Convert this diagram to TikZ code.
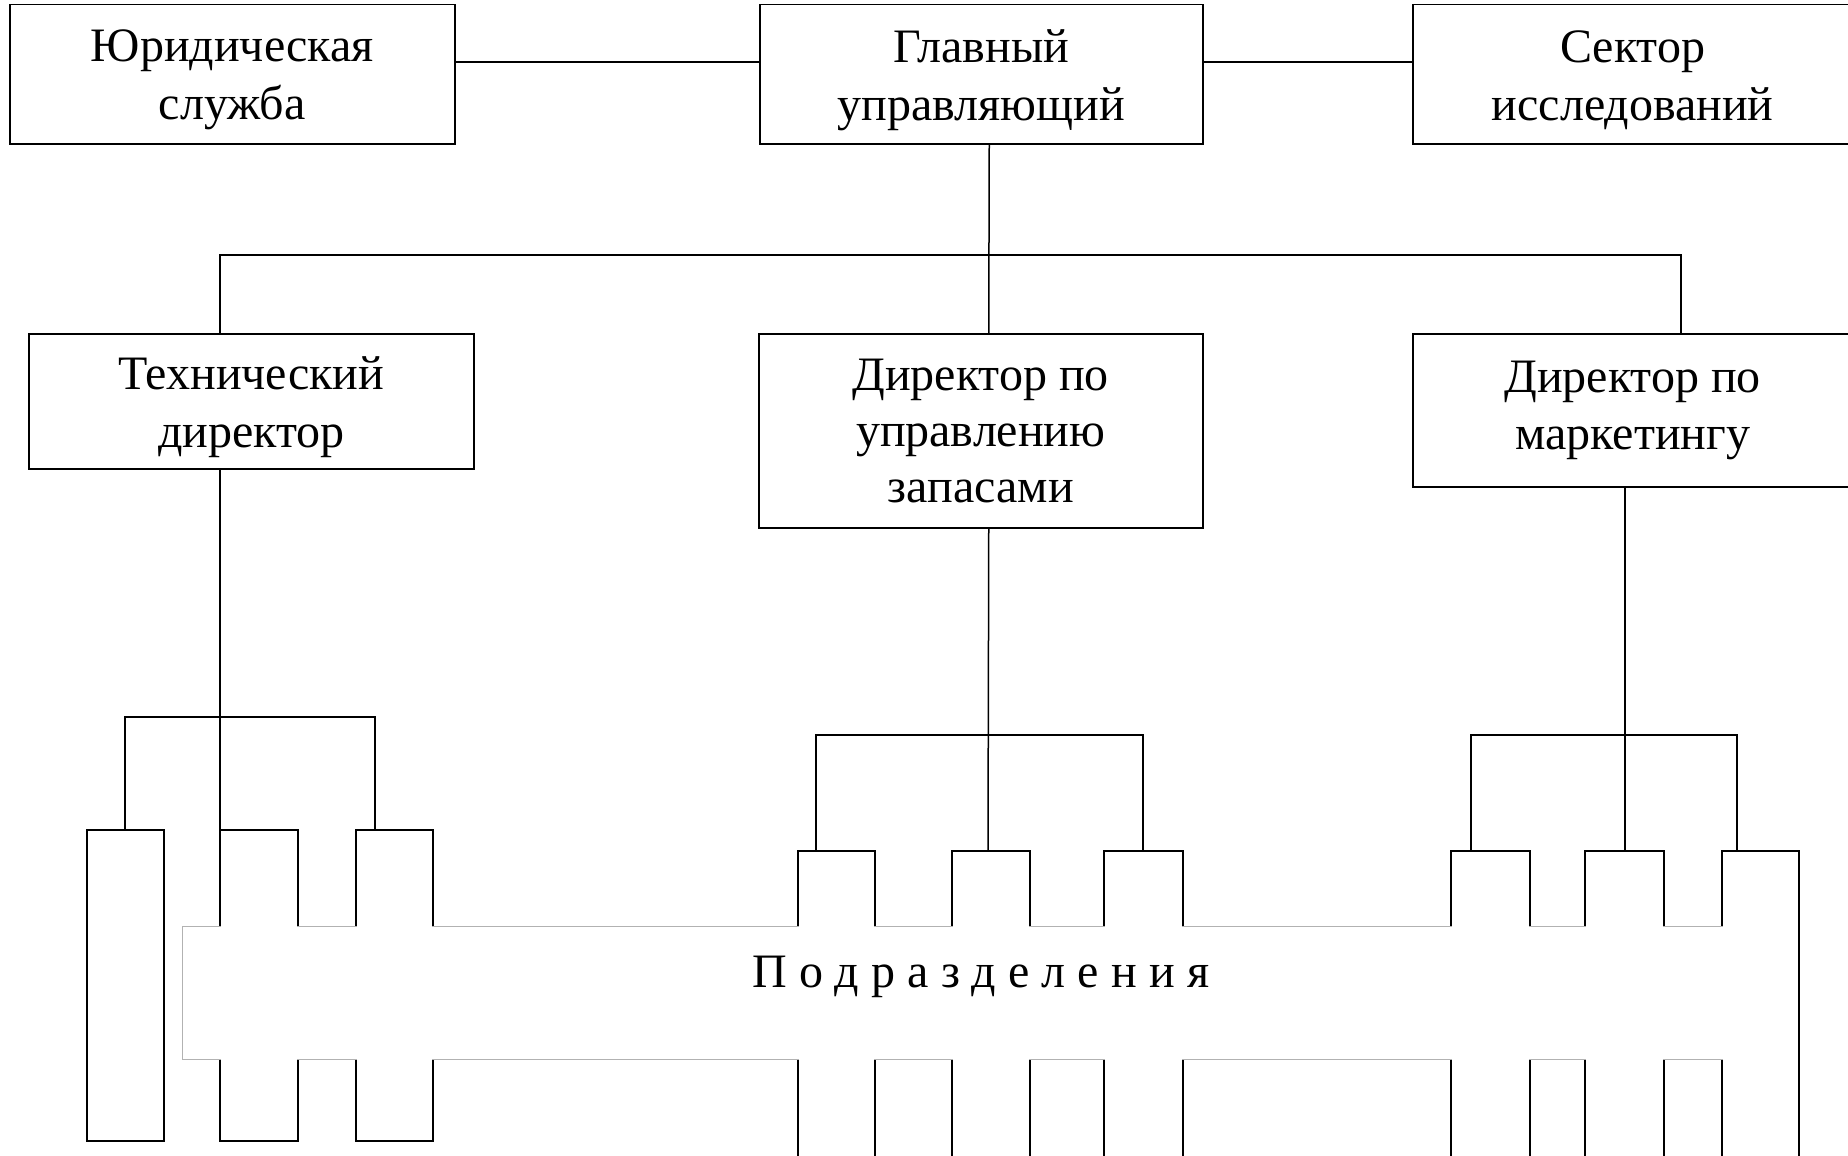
\documentclass[tikz,border=0pt]{standalone}
\usepackage{fontspec}
\setmainfont{Liberation Serif}
\begin{document}
\begin{tikzpicture}[x=1pt,y=-1pt,
  box/.style={draw=black, line width=1.5pt, inner sep=0pt, anchor=north west},
  txt/.style={inner sep=0pt, align=center, font=\fontsize{48}{58}\selectfont},
  ln/.style={draw=black, line width=1.5pt},
  band/.style={draw=black!30, line width=1pt, fill=white, inner sep=0pt, anchor=north west},
  gap/.style={fill=white}]
\useasboundingbox (0,0) rectangle (1848,1156);
% top row
\node[box, minimum width=445pt, minimum height=139pt] (jur) at (9,4) {};
\node[box, minimum width=443pt, minimum height=139pt] (gm) at (759,4) {};
\node[box, minimum width=440pt, minimum height=139pt] (sec) at (1412,4) {};
\node[txt] (jurt) at ([yshift=-6pt]jur.center) {Юридическая\\служба};
\node[txt] (gmt) at ([yshift=-6pt]gm.center) {Главный\\управляющий};
\node[txt] (sect) at ([yshift=-6pt]sec.center) {Сектор\\исследований};
% directors
\node[box, minimum width=445pt, minimum height=135pt] (tech) at (28,333) {};
\node[box, minimum width=444pt, minimum height=194pt] (mid) at (758,333) {};
\node[box, minimum width=440pt, minimum height=153pt] (mkt) at (1412,333) {};
\node[txt] (techt) at ([yshift=-6pt]tech.center) {Технический\\директор};
\node[txt, font=\fontsize{48}{56}\selectfont] (midt) at (mid.center) {Директор по\\управлению\\запасами};
\node[txt, font=\fontsize{48}{57}\selectfont] (mktt) at (mkt.center) {Директор по\\маркетингу};
% top connectors
\draw[ln] ([yshift=-58pt]jur.north east) -- ([yshift=-58pt]gm.north west);
\draw[ln] ([yshift=-58pt]gm.north east) -- ([yshift=-58pt]sec.north west);
\coordinate (busL) at (220,255);
\coordinate (busR) at (1681,255);
\draw[ln] ([xshift=8pt]gm.south) -- ([xshift=8pt]mid.north);
\draw[ln] (tech.north -| busL) -- (busL) -- (busR) -- (mkt.north -| busR);
% lower connectors
\coordinate (tl) at (220,830);
\coordinate (ml) at (988,851);
\coordinate (rl) at (1625,851);
\draw[ln] (tech.south -| tl) -- (tl);
\draw[ln] ([xshift=8pt]mid.south) -- (ml);
\draw[ln] (mkt.south -| rl) -- (rl);
% brackets
\draw[ln] (125,830) -- (125,717) -- (375,717) -- (375,830);
\draw[ln] (816,851) -- (816,735) -- (1143,735) -- (1143,851);
\draw[ln] (1471,851) -- (1471,735) -- (1737,735) -- (1737,851);
% units, left group (closed)
\foreach \a/\b in {87/164, 220/298, 356/433}
  \draw[ln] (\a,830) rectangle (\b,1141);
% units, middle and right groups (open below)
\foreach \a/\b in {798/875, 952/1030, 1104/1183, 1451/1530, 1585/1664, 1722/1799}
  \draw[ln] (\a,1175) -- (\a,851) -- (\b,851) -- (\b,1175);
% band
\node[band, minimum width=1578pt, minimum height=133pt] (band) at (182,926) {};
\foreach \a/\b in {220/298, 356/433, 798/875, 952/1030, 1104/1183, 1451/1530, 1585/1664, 1722/1799}
  \fill[gap] (\a+1.3,922) rectangle (\b-1.3,1063);
\node[font=\fontsize{48}{50}\selectfont\addfontfeature{LetterSpace=25.5}] (sub) at (981,977) {Подразделения};
\end{tikzpicture}
\end{document}
